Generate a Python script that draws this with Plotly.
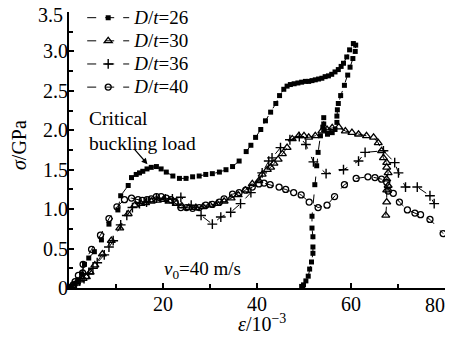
import plotly.graph_objects as go

# ---- data ----
x26 = [0.5, 1.2, 2.0, 2.7, 3.3, 4.2, 5.4, 6.9, 8.5, 10.4, 11.0, 12.6, 13.3, 14.3, 15.0, 15.7, 16.6, 17.5, 18.6, 19.6,
       20.7, 22.1, 23.5, 24.9, 26.3, 27.7, 29.1, 30.5, 32.0, 33.4, 34.8, 36.2, 37.7, 38.7, 39.7, 40.8, 41.8, 42.9, 44.0, 44.8,
       45.7, 46.4, 47.1, 47.9, 48.7, 49.5, 50.3, 51.0, 51.7, 52.4, 53.1, 53.8, 54.5, 55.2, 55.9, 56.6, 57.3, 57.9, 58.4,
       59.1, 59.7, 60.5, 61.0, 60.9, 60.4, 59.8, 59.3, 58.6, 57.8, 57.3, 57.1, 57.0, 57.0, 56.6, 56.0, 55.0, 54.3, 54.2, 54.2,
       54.0, 53.5, 53.0, 52.7, 52.3, 51.7, 51.7, 51.9, 51.9, 51.9, 51.6, 51.2, 50.9, 50.4, 49.9, 49.5]
y26 = [0.02, 0.05, 0.10, 0.18, 0.30, 0.38, 0.46, 0.61, 0.81, 0.99, 1.17, 1.30, 1.40, 1.44, 1.46, 1.48, 1.51, 1.53, 1.54, 1.51,
       1.47, 1.42, 1.39, 1.39, 1.41, 1.42, 1.44, 1.45, 1.47, 1.50, 1.54, 1.61, 1.73, 1.81, 1.91, 2.01, 2.12, 2.23, 2.34, 2.44,
       2.52, 2.56, 2.58, 2.59, 2.60, 2.61, 2.62, 2.62, 2.63, 2.64, 2.65, 2.66, 2.68, 2.69, 2.71, 2.74, 2.77, 2.81, 2.85,
       2.93, 3.02, 3.10, 3.08, 3.00, 2.91, 2.80, 2.70, 2.57, 2.44, 2.34, 2.26, 2.18, 2.10, 2.01, 1.97, 1.95, 2.00, 2.08, 2.16,
       2.04, 1.93, 1.72, 1.55, 1.31, 0.91, 0.76, 0.65, 0.52, 0.44, 0.33, 0.24, 0.15, 0.09, 0.04, 0.02]

x30 = [0.8, 1.5, 2.3, 3.0, 3.7, 4.5, 5.5, 7.1, 9.0, 10.8, 12.6, 14.0, 15.3, 16.3, 17.5, 18.8, 20.1, 21.5, 22.8, 24.0,
       25.5, 27.0, 28.5, 30.0, 31.5, 33.0, 34.5, 36.0, 37.5, 39.0, 40.4, 41.1, 42.2, 42.9, 43.6, 44.5, 45.4, 46.4, 47.5, 48.9,
       50.0, 51.0, 52.4, 53.8, 54.9, 56.0, 57.4, 58.8, 60.2, 61.6, 63.3, 64.8, 65.8, 66.5, 66.9, 67.6, 67.6, 67.9, 67.6, 67.9,
       67.6, 67.6, 67.4]
y30 = [0.02, 0.06, 0.10, 0.12, 0.14, 0.20, 0.29, 0.43, 0.60, 0.76, 0.94, 1.05, 1.07, 1.08, 1.10, 1.11, 1.12, 1.10, 1.07, 1.04,
       1.02, 1.02, 1.03, 1.05, 1.07, 1.10, 1.14, 1.18, 1.24, 1.32, 1.36, 1.44, 1.50, 1.53, 1.58, 1.63, 1.70, 1.78, 1.89, 1.93,
       1.93, 1.91, 1.93, 1.99, 2.01, 2.03, 2.04, 1.99, 1.97, 1.95, 1.93, 1.91, 1.84, 1.74, 1.65, 1.59, 1.53, 1.46, 1.38, 1.30,
       1.24, 1.09, 0.92]

x36 = [0.8, 1.5, 2.3, 3.2, 4.2, 5.1, 6.0, 7.5, 8.5, 9.4, 11.0, 12.3, 13.5, 15.0, 16.5, 18.6, 20.5, 22.0, 23.8,
       26.0, 28.1, 30.5, 32.3, 34.4, 36.5, 38.7, 41.1, 42.5, 43.2, 45.0, 47.0, 49.0, 50.4, 52.0, 54.7, 58.4, 61.6, 63.0,
       66.9, 69.3, 70.1, 71.6, 74.1, 76.8, 77.7]
y36 = [0.03, 0.06, 0.09, 0.12, 0.18, 0.25, 0.32, 0.42, 0.52, 0.60, 0.80, 0.92, 1.02, 1.07, 1.09, 1.14, 1.13, 1.13, 1.15,
       1.05, 0.92, 0.81, 0.90, 0.96, 1.07, 1.21, 1.46, 1.61, 1.65, 1.78, 1.88, 1.92, 1.82, 1.60, 1.45, 1.50, 1.61, 1.72,
       1.74, 1.59, 1.46, 1.28, 1.28, 1.17, 1.07]

x40 = [0.9, 1.3, 2.0, 2.9, 3.0, 4.8, 6.7, 8.5, 10.2, 11.8, 13.3, 14.7, 15.6, 16.6, 17.5, 18.6, 19.6, 20.7, 21.7, 22.6,
       23.8, 25.0, 26.3, 27.7, 29.1, 30.5, 32.0, 33.0, 34.8, 36.2, 37.6, 39.0, 40.4, 41.5, 42.8, 44.7, 46.1, 47.8, 49.4,
       51.1, 53.0, 54.9, 56.5, 58.6, 61.1, 63.6, 65.1, 66.5, 67.6, 67.9, 69.0, 70.3, 72.0, 73.6, 74.8, 76.8, 79.6]
y40 = [0.04, 0.08, 0.16, 0.19, 0.30, 0.49, 0.67, 0.88, 1.03, 1.12, 1.14, 1.12, 1.11, 1.12, 1.13, 1.16, 1.16, 1.14, 1.12, 1.09,
       1.02, 1.02, 1.01, 1.02, 1.05, 1.06, 1.09, 1.13, 1.19, 1.21, 1.24, 1.28, 1.32, 1.33, 1.31, 1.28, 1.25, 1.21, 1.18,
       1.09, 1.02, 1.05, 1.16, 1.31, 1.39, 1.41, 1.40, 1.38, 1.34, 1.23, 1.20, 1.09, 0.99, 0.95, 0.93, 0.87, 0.69]

labels = ["26", "30", "36", "40"]
names = ['<span style="font-size:19px"><i>D</i>/<i>t</i>=%s</span>' % s for s in labels]

y_tickvals = [0, 0.5, 1.0, 1.5, 2.0, 2.5, 3.0, 3.5]
y_ticktext = ["0", "0.5", "1.0", "1.5", "2.0", "2.5", "3.0", ""]
y_top_label = "3.5"
x_tickvals = [0, 20, 40, 60, 80]
x_ticktext = ["", "20", "40", "60", ""]
x_end_label = "80"

FONT = "Liberation Serif"

fig = go.Figure()
line = dict(color="black", width=1, dash="dash")
fig.add_trace(go.Scatter(x=x26, y=y26, mode="lines+markers", name=names[0], line=line,
                         marker=dict(symbol="square", size=5, color="black")))
fig.add_trace(go.Scatter(x=x30, y=y30, mode="lines+markers", name=names[1], line=line,
                         marker=dict(symbol="triangle-up-open", size=7, color="black", line=dict(width=1.3, color="black"))))
fig.add_trace(go.Scatter(x=x36, y=y36, mode="lines+markers", name=names[2], line=line,
                         marker=dict(symbol="cross-thin-open", size=7, color="black", line=dict(width=1.4, color="black"))))
fig.add_trace(go.Scatter(x=x40, y=y40, mode="lines+markers", name=names[3], line=line,
                         marker=dict(symbol="circle-open", size=6, color="black", line=dict(width=1.3, color="black"))))

# the page adds an 8px body margin, so the figure is sized to the visible area
fig.update_layout(
    width=448, height=332,
    margin=dict(l=61, r=11, t=4, b=52, autoexpand=False),
    paper_bgcolor="white", plot_bgcolor="white",
    font=dict(family=FONT, size=20, color="black"),
    showlegend=True,
    legend=dict(x=0.0351, y=1.0395, xanchor="left", yanchor="top", bgcolor="rgba(0,0,0,0)",
                font=dict(family=FONT, size=15.5), tracegroupgap=0, itemwidth=42),
    xaxis=dict(range=[0, 80], showline=True, linecolor="black", linewidth=2, showgrid=False, zeroline=False,
               automargin=False, ticklabeloverflow="allow", ticklabelstandoff=-3,
               ticks="inside", ticklen=5, tickwidth=1.5, tickcolor="black",
               tickmode="array", tickvals=x_tickvals, ticktext=x_ticktext,
               minor=dict(tickmode="array", tickvals=[10, 30, 50, 70], ticks="inside", ticklen=4, tickwidth=1.5,
                          tickcolor="black", showgrid=False),
               tickfont=dict(family=FONT, size=20)),
    yaxis=dict(range=[0, 3.5], showline=True, linecolor="black", linewidth=2, showgrid=False, zeroline=False,
               automargin=False, ticklabeloverflow="allow", ticklabelstandoff=-5,
               ticks="inside", ticklen=5, tickwidth=1.5, tickcolor="black",
               tickmode="array", tickvals=y_tickvals, ticktext=y_ticktext,
               minor=dict(tickmode="array", tickvals=[0.25, 0.75, 1.25, 1.75, 2.25, 2.75, 3.25], ticks="inside",
                          ticklen=4, tickwidth=1.5, tickcolor="black", showgrid=False),
               tickfont=dict(family=FONT, size=20)),
)

# end labels nudged so they are not clipped by the page edge
fig.add_annotation(text=y_top_label, xref="paper", yref="paper", x=-0.0106, y=0.9891, xanchor="right",
                   yanchor="middle", showarrow=False, font=dict(family=FONT, size=20))
fig.add_annotation(text=x_end_label, xref="paper", yref="paper", x=1.006, y=-0.0145, xanchor="right",
                   yanchor="top", showarrow=False, font=dict(family=FONT, size=20))

# axis titles as annotations
fig.add_annotation(text="<i>σ</i>/GPa", xref="paper", yref="paper", x=-0.133, y=0.518, textangle=-90,
                   showarrow=False, font=dict(family=FONT, size=20), xanchor="center", yanchor="middle")
fig.add_annotation(text="<i>ε</i>/10<sup>−3</sup>", xref="paper", yref="paper", x=0.513, y=-0.127,
                   showarrow=False, font=dict(family=FONT, size=20), xanchor="center", yanchor="middle")

# labels inside the plot
fig.add_annotation(text="Critical<br>buckling load", x=3.8, y=2.31, xref="x", yref="y", xanchor="left", yanchor="top",
                   align="left", showarrow=False, font=dict(family=FONT, size=19.5))
fig.add_annotation(text="", x=16.7, y=1.57, xref="x", yref="y", showarrow=True, arrowhead=2, arrowsize=1,
                   arrowwidth=1.2, arrowcolor="black", ax=-14, ay=-16)
fig.add_annotation(text="<i>v</i><sub>0</sub>=40 m/s", x=28.3, y=0.23, xref="x", yref="y",
                   showarrow=False, font=dict(family=FONT, size=19))

fig.write_html("out.html")
